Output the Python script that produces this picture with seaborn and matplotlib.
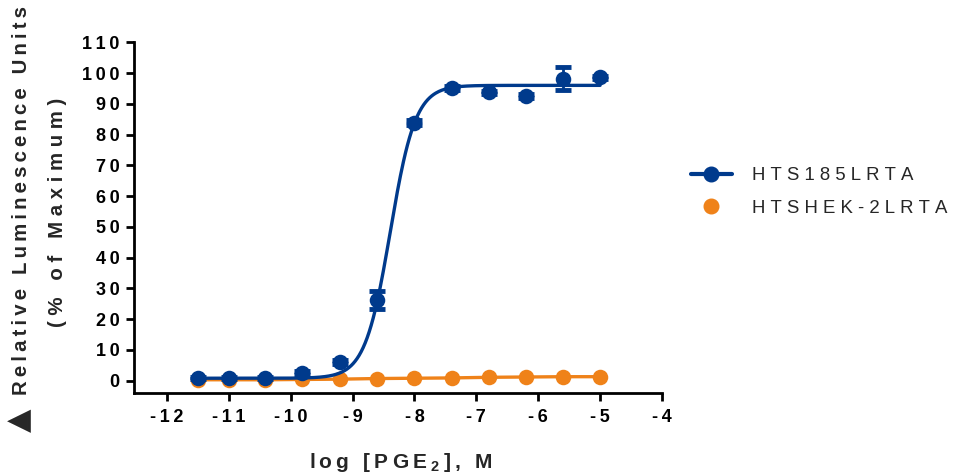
import numpy as np
import pandas as pd
import matplotlib
matplotlib.use("Agg")
import matplotlib.pyplot as plt
from matplotlib.lines import Line2D
import seaborn as sns

# Data (log molar PGE2 vs % of max luminescence)
log_conc = [-11.5, -11.0, -10.42, -9.82, -9.21, -8.61, -8.0, -7.4, -6.8, -6.2, -5.6, -5.0]
hts185_mean = [1.0, 0.8, 1.0, 2.5, 6.0, 26.2, 83.9, 95.1, 93.8, 92.6, 98.2, 98.6]
hts185_sem = [0.3, 0.3, 0.3, 0.5, 0.6, 2.9, 0.8, 0.6, 0.5, 0.6, 3.7, 0.5]
hek_mean = [0.3, 0.3, 0.3, 0.4, 0.5, 0.7, 0.8, 0.9, 1.1, 1.2, 1.3, 1.3]

# 4-parameter logistic fit for HTS185LRTA
fit_bottom = 0.8
fit_top = 96.0
fit_logec50 = -8.39
fit_hill = 2.13

x_ticks = [-12, -11, -10, -9, -8, -7, -6, -5, -4]
y_ticks = [0, 10, 20, 30, 40, 50, 60, 70, 80, 90, 100, 110]
series_names = ['HTS185LRTA', 'HTSHEK-2LRTA']

BLUE = "#003a8c"
ORANGE = "#ef8219"
FONTS = ['Liberation Sans', 'DejaVu Sans']
THIN = '\u2009'
PUNCT = '\u2008'


def spaced(s, gap=THIN):
    # Prism-style letter spacing
    return gap.join(s)


sns.set_theme(style="ticks")
plt.rcParams['font.family'] = FONTS
plt.rcParams['axes.unicode_minus'] = False
plt.rcParams['mathtext.fontset'] = 'custom'
plt.rcParams['mathtext.bf'] = 'Liberation Sans:bold'

df = pd.DataFrame({'logc': log_conc, 'hts185': hts185_mean,
                   'sem': hts185_sem, 'hek': hek_mean})

xfit = np.linspace(log_conc[0], log_conc[-1], 400)
yfit = fit_bottom + (fit_top - fit_bottom) / (1 + 10 ** ((fit_logec50 - xfit) * fit_hill))
fit_df = pd.DataFrame({'logc': xfit, 'fit': yfit})

fig = plt.figure(figsize=(9.54, 4.76), dpi=100)
ax = fig.add_axes([134 / 954, 1 - 393 / 476, (662 - 134) / 954, (393 - 42.3) / 476])

# HTSHEK-2LRTA (flat line + points)
sns.lineplot(data=df, x='logc', y='hek', color=ORANGE, lw=2.4, ax=ax, zorder=2)
sns.scatterplot(data=df, x='logc', y='hek', color=ORANGE, s=125, linewidth=0,
                ax=ax, zorder=3)

# HTS185LRTA (fit + points with SEM)
sns.lineplot(data=fit_df, x='logc', y='fit', color=BLUE, lw=2.4, ax=ax, zorder=4)
ax.errorbar(df['logc'], df['hts185'], yerr=df['sem'], fmt='none', ecolor=BLUE,
            elinewidth=2, capsize=5.5, capthick=3.5, zorder=5)
sns.scatterplot(data=df, x='logc', y='hts185', color=BLUE, s=125, linewidth=0,
                ax=ax, zorder=6)

ax.set_xlim(-12.53, -4)
ax.set_ylim(-4, 110)
ax.set_xticks(x_ticks)
ax.set_yticks(y_ticks)
ax.set_xticklabels([spaced(str(t)) for t in x_ticks])
ax.set_yticklabels([spaced(str(t)) for t in y_ticks])
ax.set_xlabel('')
ax.set_ylabel('')
for s in ['top', 'right']:
    ax.spines[s].set_visible(False)
for s in ['left', 'bottom']:
    ax.spines[s].set_linewidth(2)
    ax.spines[s].set_color('black')
ax.tick_params(axis='both', direction='out', length=5.5, width=2, color='black',
               labelsize=13, labelcolor='black')
ax.tick_params(axis='y', pad=5)
ax.tick_params(axis='x', pad=6)
for lab in ax.get_xticklabels() + ax.get_yticklabels():
    lab.set_fontweight('bold')

# axis titles
xlabel = spaced('log [PGE') + THIN + r'$_{\mathbf{2}}$' + THIN + spaced('], M')
fig.text(401 / 954, 1 - 462 / 476, xlabel, ha='center',
         va='center', fontsize=15, fontweight='bold', family=FONTS)
fig.text(22 / 954, 1 - 200 / 476, spaced('Relative Luminescence Units'), rotation=90,
         ha='center', va='center', fontsize=14.7, fontweight='bold', family=FONTS)
fig.text(58 / 954, 1 - 212 / 476, spaced('(% of Maximum)', PUNCT), rotation=90,
         ha='center', va='center', fontsize=14.7, fontweight='bold', family=FONTS)
fig.text(20 / 954, 1 - 420 / 476, '\u25b2', rotation=90, ha='center', va='center',
         fontsize=22, family=['DejaVu Sans'])

# legend
handles = [
    Line2D([], [], color=BLUE, lw=3, marker='o', markersize=10.5),
    Line2D([], [], color=ORANGE, lw=0, marker='o', markersize=10.5),
]
fig.legend(handles, [spaced(n, PUNCT) for n in series_names], loc='center left',
           bbox_to_anchor=(674 / 954, 1 - 192 / 476), frameon=False,
           fontsize=13.4, handlelength=2.2, handletextpad=1.1, labelspacing=0.85)

fig.savefig('out.png', dpi=100)
